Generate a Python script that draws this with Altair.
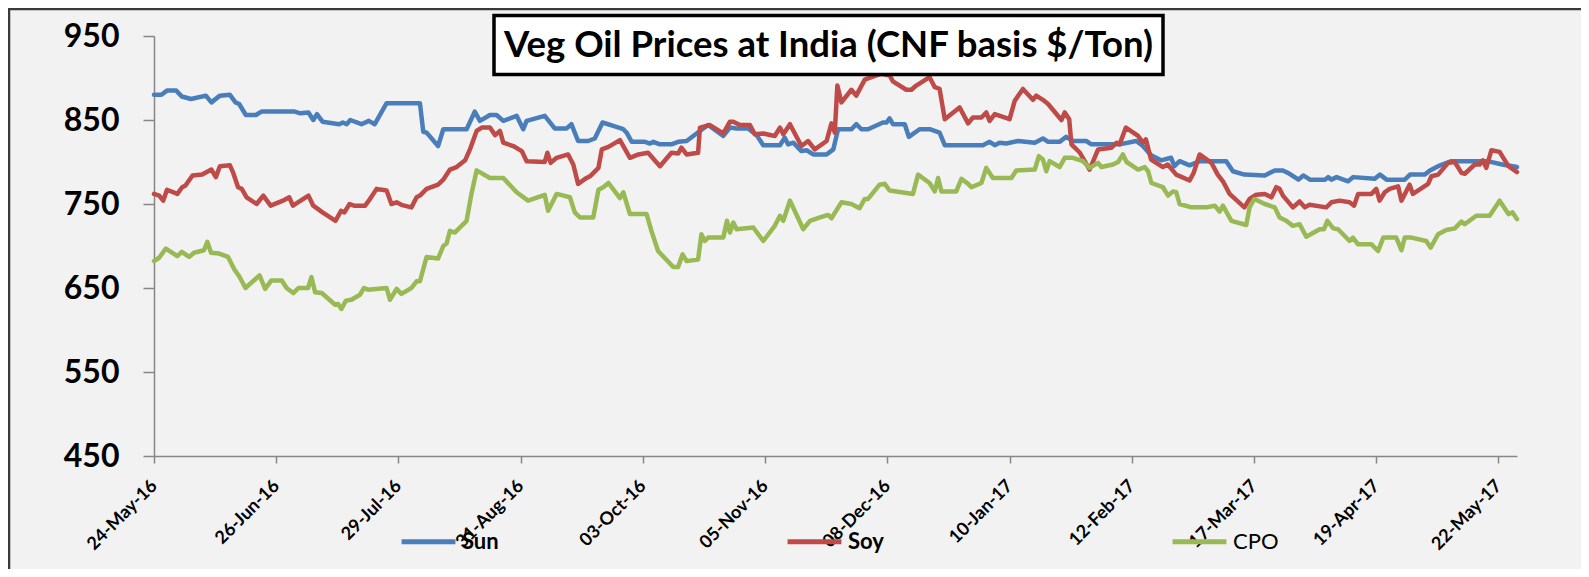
import altair as alt
import pandas as pd

# Days counted from 24-May-2016, values in $/Ton
sun_day = [0, 2, 3.5, 6, 7.5, 10, 14, 15.5, 17.8, 20.5, 22, 23, 24.8, 27.5, 29, 38, 39.5, 41.7, 43, 44, 45.5, 50, 51, 52, 53, 56, 58,
           59.6, 62.8, 71.8, 72.7, 73.6, 76.7, 78.1, 84.4, 86.6, 88, 90.7, 92.5, 94.3, 97.9, 99.7, 100.6, 105.5, 108.2, 111.4, 112.7, 114.5, 117.2,
           119, 121.1, 124, 126.7, 127.6, 129, 132.6, 133.9, 134.8, 136.6, 139.7, 141.5, 143.8, 147.4, 149.6, 153.7, 155.5, 157.3, 160.4, 162.7,
           164.5, 169, 170.3, 171.2, 172.6, 174.8, 176.2, 178,
           181.6, 183.4, 184.7, 188.3, 189.6, 191, 192.8, 196.8, 197.8, 198.6, 199.5, 202.7, 203.8, 206.7, 209.4, 212.1, 213.5, 223.8, 225.6, 227,
           228.3, 230.1, 233.3, 237.8, 240,
           241.4, 244.5, 246.3, 248.1, 251.7, 253.1, 260.7, 265.2, 267, 269.2, 271.9, 274.6, 275.5, 276.9, 279.6, 282.3, 289.5, 291.3, 294.4, 299.9,
           302.6, 304.8, 306.6, 309, 310.3, 312.1, 316.2, 317, 317.9, 319.3, 322.4, 323.8, 329.6, 331, 332.8, 337.7, 339.1, 343.1, 344.5, 346.7,
           350.3, 360, 364, 368]
sun_val = [880, 880, 885, 885, 878, 875, 879, 871, 879, 880, 871, 869, 856, 856, 860, 860, 858, 859, 850, 857, 848, 845, 847, 845, 850, 845, 849,
           845, 870, 870, 836, 835, 819, 839, 839, 860, 849, 856, 856, 849, 855, 839, 849, 855, 840, 840, 845, 825, 825,
           828, 847, 843, 839, 835, 824, 824, 822, 824, 821, 821, 824, 825, 837, 844, 831, 841, 840, 840, 832,
           820, 820, 829, 821, 823, 813, 814, 809,
           809, 815, 839, 839, 845, 839, 839, 847, 847, 852, 845, 845, 830, 839, 839, 835, 820, 820, 824, 820,
           823, 822, 825, 823, 828,
           824, 824, 830, 825, 825, 821, 821, 825, 819, 808, 802, 805, 795, 801, 796, 801, 801, 789, 785, 784,
           790, 790, 786, 779, 784, 779, 779, 782, 779, 782, 777, 782, 780, 785, 779, 779, 785, 785, 790, 795,
           801, 801, 797, 794]

soy_day = [0, 1.4, 2.5, 3.5, 6.3, 7.6, 8.5, 10.4, 13, 15.5, 16.7, 17.8, 20.5, 21.4, 22.7, 23.7, 25, 27.7, 29.5, 31.5, 34.8, 36.5, 37.5,
           41.7, 43, 45.5, 49, 50.5, 51.4, 52.8, 54, 57, 58,
           60.1, 62.8, 64.1, 65.5, 66.8, 69.5, 70.9, 71.8, 73.6, 76.7, 78.1, 79.9, 81.7, 84, 85.3, 87.1, 88.5, 90.7, 92.1, 93.4, 94.3, 97,
           99.3, 100.6, 105.5, 106.2, 107.1, 108.7, 111.8, 113.2, 114.5, 116.8,
           117.7, 120, 120.9, 122.7, 125.8, 128.5, 130.8, 133.4, 136.6, 139.7, 141.5, 142.4, 143.8, 146.9, 147.4, 150.1, 153.7, 155.5, 156.4,
           158.2, 160.9, 162.2, 164.5, 167.6, 169, 169.9, 171.7, 174.8, 176.6, 178.4,
           181.6, 182.9, 183.8, 184.5, 185.6, 188.3, 189.6, 191.9, 195, 196.4, 198.6, 199.5, 203.1, 204.5, 205.8, 209.4, 210.8, 212.1, 213.5,
           217.5, 219.8, 221.1, 223.4, 224.7, 225.6, 227, 231, 232.4, 234.6, 237.3, 238.2, 240,
           241.4, 245, 245.9, 247.1, 247.7, 250, 252.6, 254.9, 258.5, 259.9, 260.7, 262.4, 265.7, 267, 267.8, 269.2, 272.4, 273.7, 276, 279.6,
           280.7, 282.3, 285.5, 287.2, 288.6, 290.4, 294.4, 295.8, 297.6, 299.9,
           301.7, 303, 303.9, 304.8, 307.5, 309.3, 310.7, 312, 316.5, 317.9, 320.1, 322.8, 324, 325.1, 328.7, 330, 330.9, 332.3, 333.6, 335.9,
           336.8, 339, 339.9, 344, 344.9, 346.7, 349.4, 351.2, 353, 353.9, 356.6, 357.9, 358.8, 359.7, 361.1, 363.3, 365.7, 368]
soy_val = [762, 760, 754, 767, 762, 770, 772, 784, 785, 791, 782, 795, 796, 787, 770, 768, 758, 750, 760, 748, 754, 758, 748,
           760, 748, 740, 730, 742, 740, 750, 748, 748, 754,
           768, 766, 750, 752, 749, 746, 758, 760, 768, 773, 779, 791, 794, 802, 815, 837, 841, 841, 832, 837, 823, 819,
           813, 801, 800, 811, 799, 805, 809, 797, 774, 781,
           783, 793, 815, 818, 826, 805, 809, 811, 795, 811, 810, 817, 809, 811, 841, 844, 834, 848, 848,
           844, 844, 833, 834, 831, 841, 833, 845, 819, 825, 815,
           825, 846, 835, 891, 871, 886, 879, 898, 903, 905, 903, 896, 886, 886, 891, 901, 889, 887, 851,
           865, 846, 853, 853, 859, 849, 857, 851, 873, 887, 874, 879, 874,
           869, 850, 859, 851, 821, 811, 791, 815, 817, 823, 821, 841, 831, 823, 827, 803, 794, 797, 785, 778,
           787, 809, 799, 785, 777, 762, 746, 756, 761, 762,
           758, 770, 768, 760, 746, 753, 746, 749, 746, 752, 754, 752, 748, 762, 762, 768, 754, 764, 768, 771,
           754, 773, 762, 774, 783, 785, 799, 800, 787, 786, 797, 797, 802, 793, 814, 812, 795, 788]

cpo_day = [0, 1.4, 3.2, 6.3, 7.5, 9.5, 10.8, 13.5, 14.4, 15.4, 17.6, 20, 21.7, 23, 24.7, 28.5, 30, 31.7, 34.5, 35.8, 37.6, 39, 41.6,
           42.5, 43.5, 45.3, 48.9, 49.7, 50.6, 51.8, 53.3, 55.6, 56.7, 57.8,
           62.8, 63.7, 65.5, 66.8, 69.5, 70.9, 71.8, 73.6, 76.7, 78.1, 79, 79.9, 81.2, 84.4, 85.7, 87.1, 90.7, 94.3, 97.9, 101, 105.5, 106.4,
           108.7, 112.3, 113.6, 115, 118.6,
           120, 121.3, 122.7, 125.8, 126.7, 128.5, 133, 134.3, 136.1, 140.2, 141.5, 142.7, 143.8, 146.9, 147.8, 148.7, 149.6, 153.7, 154.7,
           155.5, 156.4, 157.3, 161.8, 164.5, 167.6, 169, 169.9, 171.7, 175.3, 177.1, 179.8,
           182, 182.9, 185.6, 188.3, 190.5, 191.9, 192.8, 195.9, 197.3, 198.6, 204.9, 206.3, 209.4, 210.8, 211.7, 212.6, 216.6, 218, 219.8,
           220.7, 223.4, 224.7, 226.5, 231.5, 232.8, 237.8, 238.9, 240, 240.9, 241.8,
           244.5, 245.9, 248.1, 250.8, 252.6, 254.9, 255.8, 258.9, 260.3, 261.6, 262.6, 265.7, 267.5, 268.4, 269.3, 272.4, 273.8, 275.1, 276,
           276.9, 280.1, 284.1, 286.4, 287.7, 288.6, 290.9, 294.9, 295.8, 297.1, 299.9,
           302.6, 303.9, 305.7, 307.5, 309.3, 311.1, 314.7, 315.9, 316.8, 318.4, 319.7, 322.8, 323.7, 325.1, 328.7, 330.5, 331.9, 335.4, 336.8,
           337.7, 339.5, 343.5, 344.7, 346.7, 348.9, 351.2, 353, 353.9, 357, 360.6, 363.3, 365.7, 366.8, 368]
cpo_val = [682, 686, 697, 688, 693, 687, 692, 695, 705, 692, 691, 687, 672, 664, 650, 665, 649, 659, 659, 650, 644, 650, 650,
           663, 645, 644, 630, 631, 625, 635, 636, 642, 650, 648,
           650, 636, 649, 643, 650, 658, 658, 687, 685, 700, 703, 718, 716, 730, 762, 790, 781, 781, 764, 754, 761, 742,
           762, 758, 740, 734, 734,
           767, 770, 775, 757, 764, 738, 738, 718, 694, 675, 675, 690, 682, 684, 714, 706, 710, 710, 730,
           716, 728, 720, 722, 706, 724, 736, 730, 754, 720, 730, 734,
           737, 733, 752, 750, 745, 756, 756, 773, 774, 766, 762, 785, 775, 765, 781, 765, 765, 780, 774,
           770, 775, 793, 781, 781, 790, 791, 807, 803, 789, 801,
           794, 805, 805, 801, 793, 799, 794, 797, 800, 809, 800, 791, 794, 789, 775, 770, 760, 765, 764,
           750, 746, 746, 748, 741, 748, 730, 725, 746, 756, 750,
           746, 734, 730, 724, 726, 711, 720, 720, 730, 721, 720, 706, 710, 702, 702, 694, 710, 710, 695,
           710, 710, 706, 698, 714, 719, 721, 729, 726, 736, 736, 754, 738, 740, 732]

series_names = ["Sun", "Soy", "CPO"]
series_colors = ["#4A7EBB", "#BE4B48", "#98B954"]
tick_days = [0, 33, 66, 99, 132, 165, 198, 231, 264, 297, 330, 363]
y_ticks = [450, 550, 650, 750, 850, 950]
title_text = "Veg Oil Prices at India (CNF basis $/Ton)"

rows = []
for name, days, vals in [("Sun", sun_day, sun_val), ("Soy", soy_day, soy_val), ("CPO", cpo_day, cpo_val)]:
    for d, v in zip(days, vals):
        rows.append({"series": name, "day": d, "price": v})
df = pd.DataFrame(rows)

W, H = 1363, 420
PAD_R, PAD_B = 64, 113
FONT = "Lato"

x_enc = alt.X(
    "day:Q",
    scale=alt.Scale(domain=[0, 368], nice=False, zero=False),
    axis=alt.Axis(
        values=tick_days,
        labelExpr="timeFormat(datetime(2016, 4, 24 + datum.value), '%d-%b-%y')",
        labelAngle=-45, labelAlign="right", labelBaseline="middle",
        labelFont=FONT, labelFontSize=18, labelFontWeight="bold", labelColor="black",
        labelPadding=20, labelOverlap=False, labelFlush=False,
        tickSize=7, tickWidth=1.5, tickColor="#868686",
        domainColor="#868686", domainWidth=1.5, grid=False, title=None,
    ),
)
y_enc = alt.Y(
    "price:Q",
    scale=alt.Scale(domain=[450, 950], nice=False, zero=False),
    axis=alt.Axis(
        values=y_ticks, labelFont=FONT, labelFontSize=32, labelFontWeight="bold",
        labelColor="black", labelPadding=24, tickSize=11, tickWidth=1.5, tickColor="#868686",
        domainColor="#868686", domainWidth=1.5, grid=False, title=None, labelFlush=False,
    ),
)

legend = alt.Legend(
    orient="none", legendX=245, legendY=476, direction="horizontal", title=None,
    symbolType="stroke", symbolSize=2900, symbolStrokeWidth=5,
    labelFont=FONT, labelFontSize=22,
    labelFontWeight=alt.ExprRef("datum.label == 'CPO' ? 'normal' : 'bold'"),
    labelColor="black", labelOffset=4, columnPadding=278, padding=0,
)
color_enc = alt.Color("series:N", scale=alt.Scale(domain=series_names, range=series_colors), legend=legend)

layers = []
for name in series_names:
    layers.append(
        alt.Chart(df).transform_filter(alt.datum.series == name)
        .mark_line(strokeWidth=4.5, strokeJoin="round", strokeCap="round")
        .encode(x=x_enc, y=y_enc, color=color_enc)
    )

tdf = pd.DataFrame({"t": [title_text]})
box = alt.Chart(tdf).mark_rect(fill="white", stroke="black", strokeWidth=3.5).encode(
    x=alt.value(340), x2=alt.value(1009), y=alt.value(-20.5), y2=alt.value(38.5)
)
ttext = alt.Chart(tdf).mark_text(font=FONT, fontSize=36.5, fontWeight="bold", color="black",
                                 align="center", baseline="middle").encode(
    x=alt.value(674.5), y=alt.value(10), text="t:N"
)
left_border = alt.Chart(tdf).mark_rule(color="#3a3a3a", strokeWidth=2.5).encode(
    x=alt.value(-145), y=alt.value(-27), y2=alt.value(H + PAD_B)
)
top_border = alt.Chart(tdf).mark_rule(color="#3a3a3a", strokeWidth=2.5).encode(
    x=alt.value(-146), x2=alt.value(W + PAD_R), y=alt.value(-27)
)

chart = alt.layer(*layers, box, ttext, left_border, top_border).properties(
    width=W, height=H,
    padding={"left": 146, "top": 28, "right": PAD_R, "bottom": PAD_B},
    autosize=alt.AutoSizeParams(type="none"),
    background="#F2F2F2",
).configure_view(stroke=None)

chart.save("out.html", embed_options={"renderer": "svg", "actions": False})
